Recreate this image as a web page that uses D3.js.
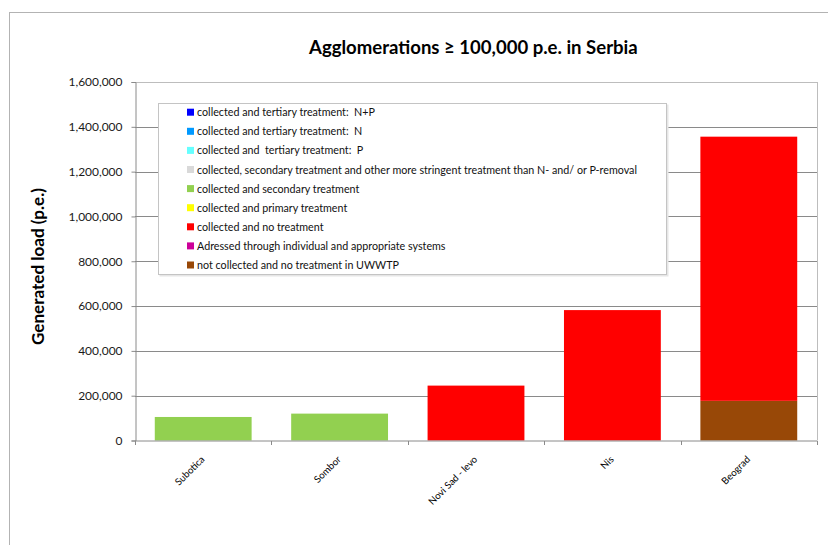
<!DOCTYPE html>
<html><head><meta charset="utf-8">
<script src="https://cdn.jsdelivr.net/npm/d3@7"></script>
<style>body{margin:0;background:#fff;overflow:hidden} text{white-space:pre}</style>
</head><body>
<svg id="chart" width="828" height="545"></svg>
<script>
// ---------- data ----------
const categories = ["Subotica", "Sombor", "Novi Sad - levo", "Nis", "Beograd"];
const legendLabels = [
  "collected and tertiary treatment:  N+P",
  "collected and tertiary treatment:  N",
  "collected and  tertiary treatment:  P",
  "collected, secondary treatment and other more stringent treatment than N- and/ or P-removal",
  "collected and secondary treatment",
  "collected and primary treatment",
  "collected and no treatment",
  "Adressed through individual and appropriate systems",
  "not collected and no treatment in UWWTP"
];
const seriesColors = ["#0000ff", "#0099ff", "#66ffff", "#d9d9d9", "#92d050", "#ffff00", "#ff0000", "#cc0099", "#984807"];
const tertiaryNP    = [0, 0, 0, 0, 0];
const tertiaryN     = [0, 0, 0, 0, 0];
const tertiaryP     = [0, 0, 0, 0, 0];
const moreStringent = [0, 0, 0, 0, 0];
const secondary     = [105000, 120000, 0, 0, 0];
const primary       = [0, 0, 0, 0, 0];
const noTreatment   = [0, 0, 245000, 582000, 1179000];
const individual    = [0, 0, 0, 0, 0];
const notCollected  = [0, 0, 0, 0, 177000];
const yTicks = [0, 200000, 400000, 600000, 800000, 1000000, 1200000, 1400000, 1600000];
const titleText = "Agglomerations \u2265 100,000 p.e. in Serbia";
const yLabelText = "Generated load (p.e.)";

// legend order (top->bottom) series values
const seriesValues = [tertiaryNP, tertiaryN, tertiaryP, moreStringent, secondary, primary, noTreatment, individual, notCollected];

// ---------- layout ----------
const FONT = "Lato, 'Open Sans', sans-serif";
const svg = d3.select("#chart");
const plot = {left: 135, right: 817, top: 82, bottom: 440.5};

function fit(sel, target) {
  const w = sel.node().getComputedTextLength();
  const fs = parseFloat(sel.attr("font-size"));
  sel.attr("font-size", fs * target / w);
  return fs * target / w;
}

// outer chart border
svg.append("rect").attr("x", 9.5).attr("y", 12.5).attr("width", 900).attr("height", 600)
  .attr("fill", "#fff").attr("stroke", "#b3b3b3").attr("stroke-width", 1);

const x = d3.scaleBand().domain(categories).range([plot.left, plot.right]).paddingInner(0.29).paddingOuter(0.145);
const y = d3.scaleLinear().domain([0, 1600000]).range([plot.bottom, plot.top]);

// stack data: bottom -> top is reverse of legend order
const table = categories.map((c, i) => {
  const o = {category: c};
  legendLabels.forEach((l, k) => o[l] = seriesValues[k][i]);
  return o;
});
const stackKeys = legendLabels.slice().reverse();
const colorOf = d3.scaleOrdinal().domain(legendLabels).range(seriesColors);
const stacked = d3.stack().keys(stackKeys)(table);

// gridlines
svg.append("g").selectAll("line").data(yTicks.filter(t => t > 0)).join("line")
  .attr("x1", plot.left).attr("x2", plot.right)
  .attr("y1", d => Math.round(y(d)) + 0.5).attr("y2", d => Math.round(y(d)) + 0.5)
  .attr("stroke", d => d === 1600000 ? "#bdbdbd" : "#8a8a8a").attr("stroke-width", 1);
// right frame
svg.append("line").attr("x1", plot.right + 0.5).attr("x2", plot.right + 0.5)
  .attr("y1", plot.top).attr("y2", plot.bottom).attr("stroke", "#bdbdbd");

// bars
svg.append("g").selectAll("g").data(stacked).join("g")
  .attr("fill", d => colorOf(d.key))
  .selectAll("rect").data(d => d.filter(s => s[1] - s[0] > 0)).join("rect")
  .attr("x", d => x(d.data.category))
  .attr("width", x.bandwidth())
  .attr("y", d => y(d[1]))
  .attr("height", d => y(d[0]) - y(d[1]));

// y axis
const yAxis = svg.append("g").attr("transform", `translate(${plot.left + 0.5},0)`)
  .call(d3.axisLeft(y).tickValues(yTicks).tickSize(4).tickPadding(9).tickFormat(d3.format(",")));
yAxis.select(".domain").attr("stroke", "#8a8a8a");
yAxis.selectAll(".tick line").attr("stroke", "#8a8a8a");
yAxis.selectAll(".tick text").attr("font-family", FONT).attr("font-size", 12).attr("fill", "#1a1a1a");
const tickFs = fit(yAxis.selectAll(".tick text").filter(d => d === 1600000), 54);
yAxis.selectAll(".tick text").attr("font-size", tickFs);

// x axis
const xAxis = svg.append("g").attr("transform", `translate(0,${plot.bottom + 0.5})`);
xAxis.append("line").attr("x1", plot.left).attr("x2", plot.right).attr("stroke", "#8a8a8a");
const bounds = d3.range(categories.length + 1).map(i => plot.left + i * x.step());
xAxis.selectAll("line.tk").data(bounds).join("line").attr("class", "tk")
  .attr("x1", d => Math.round(d) + 0.5).attr("x2", d => Math.round(d) + 0.5)
  .attr("y1", 0).attr("y2", 4).attr("stroke", "#8a8a8a");
const xl = xAxis.selectAll("text").data(categories).join("text")
  .attr("font-family", FONT).attr("font-size", 10).attr("fill", "#000")
  .attr("text-anchor", "end")
  .attr("transform", d => `translate(${x(d) + x.bandwidth() / 2 + 2},${19}) rotate(-45)`)
  .text(d => d);
const xFs = fit(xl.filter(d => d === "Subotica"), 37);
xl.attr("font-size", xFs);

// legend
const lg = svg.append("g");
lg.append("rect").attr("x", 159.5).attr("y", 104.5).attr("width", 509).attr("height", 172).attr("fill", "#e6e6e6");
lg.append("rect").attr("x", 158.5).attr("y", 103.5).attr("width", 508).attr("height", 171)
  .attr("fill", "#fff").attr("stroke", "#c4c4c4");
const rows = lg.selectAll("g.row").data(legendLabels).join("g").attr("class", "row")
  .attr("transform", (d, i) => `translate(0,${112.7 + i * 19.1})`);
rows.append("rect").attr("x", 187).attr("y", -4).attr("width", 7).attr("height", 7)
  .attr("fill", d => colorOf(d));
const lt = rows.append("text").attr("x", 197).attr("y", 3.5)
  .attr("font-family", FONT).attr("font-size", 10).attr("fill", "#111").text(d => d);
const lFs = fit(lt.filter((d, i) => i === 3), 440);
lt.attr("font-size", lFs);

// title
const t = svg.append("text").attr("x", 473.4).attr("y", 54.3).attr("text-anchor", "middle")
  .attr("font-family", FONT).attr("font-weight", "bold").attr("font-size", 20).attr("fill", "#000")
  .text(titleText);
fit(t, 329);

// y label
const yl = svg.append("text").attr("transform", "translate(44,266.5) rotate(-90)").attr("text-anchor", "middle")
  .attr("font-family", FONT).attr("font-weight", "bold").attr("font-size", 15).attr("fill", "#000")
  .text(yLabelText);
fit(yl, 157);
</script>
</body></html>
